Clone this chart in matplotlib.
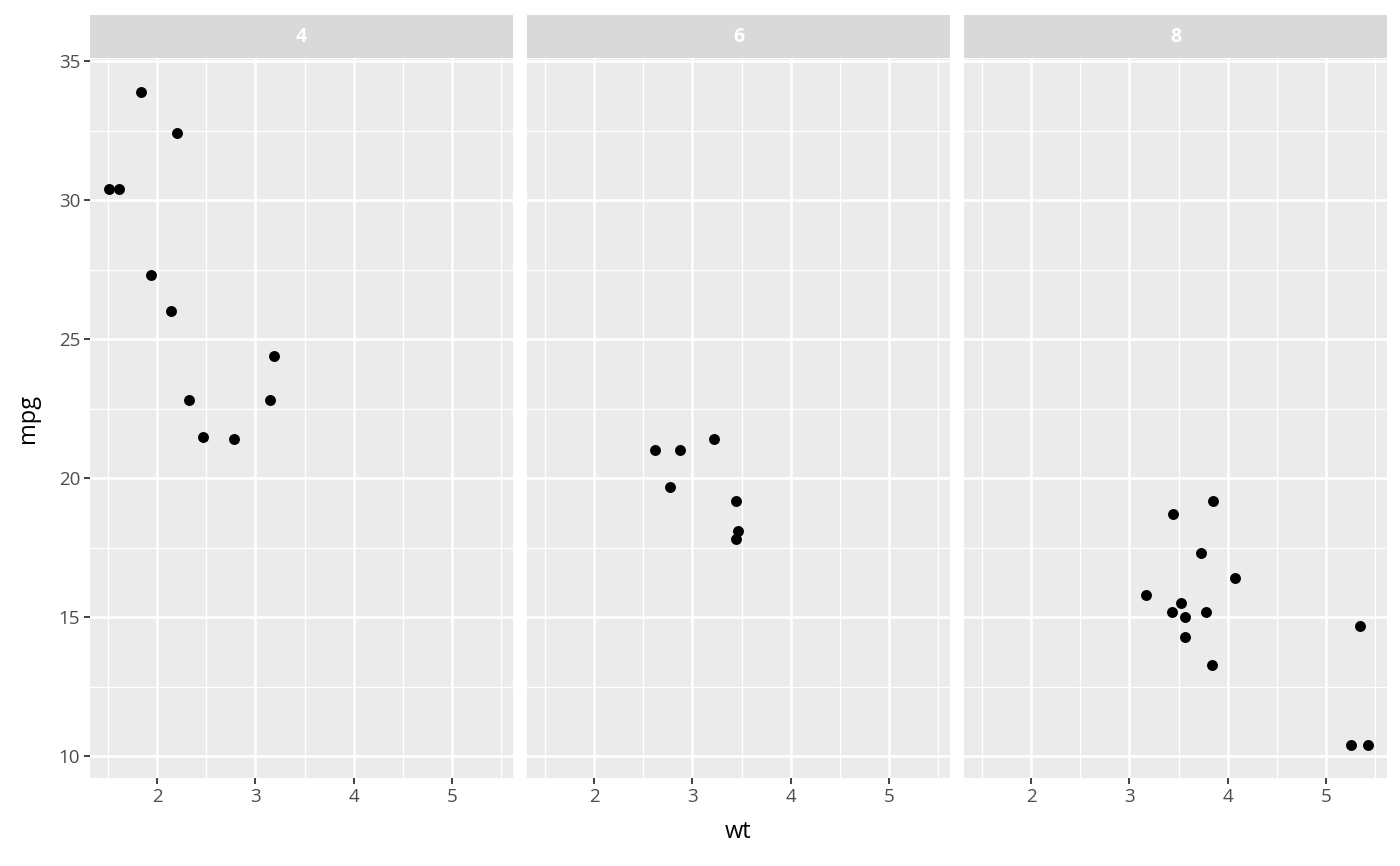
import matplotlib
matplotlib.use('Agg')
from matplotlib import pyplot as plt

plt.rcParams['font.family'] = ['Open Sans', 'DejaVu Sans']

# mtcars: wt, mpg, cyl
wt = [2.620, 2.875, 2.320, 3.215, 3.440, 3.460, 3.570, 3.190, 3.150, 3.440,
      3.440, 4.070, 3.730, 3.780, 5.250, 5.424, 5.345, 2.200, 1.615, 1.835,
      2.465, 3.520, 3.435, 3.840, 3.845, 1.935, 2.140, 1.513, 3.170, 2.770,
      3.570, 2.780]
mpg = [21.0, 21.0, 22.8, 21.4, 18.7, 18.1, 14.3, 24.4, 22.8, 19.2,
       17.8, 16.4, 17.3, 15.2, 10.4, 10.4, 14.7, 32.4, 30.4, 33.9,
       21.5, 15.5, 15.2, 13.3, 19.2, 27.3, 26.0, 30.4, 15.8, 19.7,
       15.0, 21.4]
cyl = [6, 6, 4, 6, 8, 6, 8, 4, 4, 6,
       6, 8, 8, 8, 8, 8, 8, 4, 4, 4,
       4, 8, 8, 8, 8, 4, 4, 4, 8, 6,
       8, 4]
facets = [4, 6, 8]
x_breaks = [2, 3, 4, 5]
y_breaks = [10, 15, 20, 25, 30, 35]

W, H = 1400, 866
fig = plt.figure(figsize=(W / 100, H / 100), dpi=100)

xr = max(wt) - min(wt)
xlim = (min(wt) - 0.05 * xr, max(wt) + 0.05 * xr)
yr = max(mpg) - min(mpg)
ylim = (min(mpg) - 0.05 * yr, max(mpg) + 0.05 * yr)

lefts = [90, 527, 964]
pw = 423
top, bottom = 59, 778
strip_top, strip_bot = 15, 58

def minors(br, lo, hi):
    step = br[1] - br[0]
    out = [b - step / 2 for b in br] + [br[-1] + step / 2]
    return [m for m in out if lo <= m <= hi]

for i, f in enumerate(facets):
    l = lefts[i]
    ax = fig.add_axes([l / W, 1 - bottom / H, pw / W, (bottom - top) / H])
    ax.set_facecolor('#EBEBEB')
    for m in minors(x_breaks, *xlim):
        ax.axvline(m, color='white', lw=0.9, zorder=0)
    for m in minors(y_breaks, *ylim):
        ax.axhline(m, color='white', lw=0.9, zorder=0)
    for b in x_breaks:
        ax.axvline(b, color='white', lw=1.8, zorder=0)
    for b in y_breaks:
        ax.axhline(b, color='white', lw=1.8, zorder=0)
    xs = [w for w, c in zip(wt, cyl) if c == f]
    ys = [m for m, c in zip(mpg, cyl) if c == f]
    ax.scatter(xs, ys, s=62, color='black', linewidths=0, zorder=3)
    ax.set_xlim(xlim)
    ax.set_ylim(ylim)
    ax.set_xticks(x_breaks)
    ax.set_yticks(y_breaks)
    for s in ax.spines.values():
        s.set_visible(False)
    ax.tick_params(colors='#333333', labelcolor='#4D4D4D', labelsize=13.5,
                   length=4.5, width=1.3, pad=2.5)
    if i > 0:
        ax.tick_params(axis='y', left=False, labelleft=False)
    # strip
    sax = fig.add_axes([l / W, 1 - strip_bot / H, pw / W, (strip_bot - strip_top) / H])
    sax.set_facecolor('#D9D9D9')
    sax.set_xticks([])
    sax.set_yticks([])
    for s in sax.spines.values():
        s.set_visible(False)
    sax.text(0.5, 0.5, str(f), color='white', fontsize=14, fontweight='bold',
             ha='center', va='center', transform=sax.transAxes)

fig.text((lefts[0] + lefts[-1] + pw) / 2 / W, 1 - 832 / H, 'wt', fontsize=17,
         ha='center', va='center', color='black')
fig.text(28 / W, 1 - (top + bottom) / 2 / H, 'mpg', fontsize=17, rotation=90,
         ha='center', va='center', color='black')

fig.savefig('out.png', dpi=100)
